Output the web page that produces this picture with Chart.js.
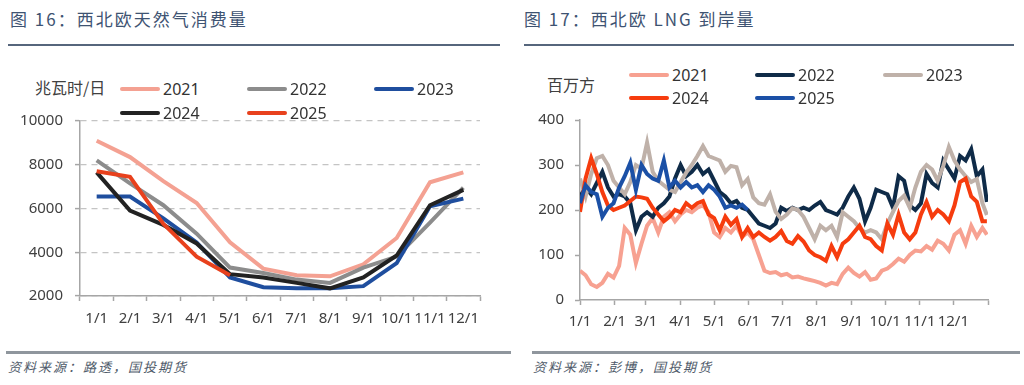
<!DOCTYPE html>
<html>
<head>
<meta charset="utf-8">
<script src="https://cdn.jsdelivr.net/npm/chart.js@4.4.0/dist/chart.umd.min.js"></script>
<style>
	html, body { margin: 0; padding: 0; background: #fff; }
	body { width: 1024px; height: 385px; position: relative; overflow: hidden; font-family: "Noto Sans", "Noto Sans CJK SC", sans-serif; }
	.title { position: absolute; top: 6px; font-family: "Noto Sans CJK SC", sans-serif; font-size: 17px; color: #3e5372; letter-spacing: 2px; white-space: nowrap; }
	.rule { position: absolute; top: 44px; height: 2px; background: #56667c; }
	.srule { position: absolute; top: 351px; height: 3px; background: #8f969d; }
	.source { position: absolute; top: 357px; font-family: "Noto Sans CJK SC", sans-serif; font-style: italic; font-size: 13px; color: #4f5b6a; letter-spacing: 2px; white-space: nowrap; }
	.unit { position: absolute; font-family: "Noto Sans CJK SC", sans-serif; font-size: 16px; color: #404040; white-space: nowrap; }
	.item { position: absolute; height: 22px; display: flex; align-items: center; font-size: 16px; color: #333; white-space: nowrap; }
	.swatch { width: 40px; height: 4px; border-radius: 2px; margin-right: 3px; }
	canvas { position: absolute; }
</style>
</head>
<body>
	<div class="title" style="left:10px">图 16：西北欧天然气消费量</div>
	<div class="rule" style="left:8px; width:492px"></div>
	<div class="title" style="left:524px">图 17：西北欧 LNG 到岸量</div>
	<div class="rule" style="left:524px; width:490px"></div>

	<div class="unit" style="left:35px; top:75px">兆瓦时/日</div>
	<div class="unit" style="left:547px; top:72px">百万方</div>

	<canvas id="chartGas" width="500" height="240" style="left:0; top:100px"></canvas>
	<canvas id="chartLng" width="500" height="240" style="left:512px; top:100px"></canvas>

	<div class="srule" style="left:6px; width:505px"></div>
	<div class="srule" style="left:532px; width:488px"></div>
	<div class="source" style="left:8px">资料来源：路透，国投期货</div>
	<div class="source" style="left:533px">资料来源：彭博，国投期货</div>

<script>
(() => {
	'use strict'

	// Left chart: monthly gas consumption (MWh/day)
	const gasMonths = ['1/1', '2/1', '3/1', '4/1', '5/1', '6/1', '7/1', '8/1', '9/1', '10/1', '11/1', '12/1'];
	const gas2021 = [9100, 8350, 7250, 6250, 4450, 3250, 2950, 2900, 3450, 4650, 7200, 7650];
	const gas2022 = [8200, 7150, 6150, 4850, 3300, 3050, 2750, 2600, 3300, 3800, 5350, 6950];
	const gas2023 = [6550, 6550, 5550, 4450, 2850, 2400, 2350, 2350, 2450, 3500, 6100, 6450];
	const gas2024 = [7650, 5900, 5250, 4400, 3000, 2850, 2600, 2350, 2850, 3850, 6150, 6850];
	const gas2025 = [7700, 7450, 5300, 3800, 2950];
	const gasTicks = [2000, 4000, 6000, 8000, 10000];

	// Right chart: LNG arrivals, sampled every 5 days (day of year)
	const lngDays = Array.from({ length: 73 }, (_, i) => i * 5).concat([364]);
	const lng2021 = [65, 55, 35, 29, 38, 58, 50, 76, 160, 145, 82, 125, 165, 182, 150, 185, 195, 175, 190, 200, 195, 205, 210, 195, 150, 140, 160, 150, 165, 140, 150, 135, 100, 65, 60, 62, 55, 58, 50, 52, 48, 45, 42, 38, 32, 38, 35, 58, 72, 60, 52, 62, 45, 48, 65, 70, 80, 92, 85, 100, 110, 108, 120, 112, 132, 125, 110, 145, 155, 125, 165, 140, 160, 145];
	const lng2022 = [230, 250, 235, 260, 285, 250, 230, 235, 230, 215, 155, 185, 195, 185, 205, 215, 230, 270, 300, 275, 285, 300, 280, 290, 265, 240, 230, 215, 220, 205, 200, 185, 170, 165, 160, 170, 205, 198, 205, 200, 205, 200, 210, 218, 200, 195, 190, 205, 230, 250, 225, 175, 205, 245, 240, 235, 205, 275, 265, 210, 200, 215, 280, 260, 250, 310, 290, 270, 320, 310, 335, 275, 290, 218];
	const lng2023 = [270, 230, 280, 315, 320, 300, 265, 250, 235, 262, 300, 292, 350, 285, 265, 255, 245, 240, 262, 283, 300, 320, 342, 320, 315, 310, 285, 298, 295, 255, 269, 228, 215, 212, 235, 196, 180, 190, 204, 200, 185, 160, 135, 165, 155, 165, 140, 195, 185, 175, 160, 150, 155, 150, 135, 170, 196, 220, 232, 205, 250, 285, 300, 290, 265, 298, 340, 310, 290, 275, 262, 269, 215, 189];
	const lng2024 = [196, 270, 315, 280, 240, 210, 200, 205, 210, 220, 230, 228, 225, 205, 190, 175, 185, 200, 195, 215, 205, 215, 220, 190, 182, 155, 185, 167, 180, 140, 160, 140, 150, 140, 132, 140, 153, 131, 125, 142, 130, 110, 100, 95, 87, 120, 95, 125, 135, 150, 165, 140, 135, 120, 110, 170, 145, 190, 150, 135, 150, 190, 218, 185, 200, 190, 175, 210, 262, 270, 230, 218, 175, 175];
	const lng2025 = [215, 255, 240, 235, 185, 205, 215, 250, 275, 305, 245, 300, 280, 270, 265, 310, 250, 265, 250, 262, 250, 255, 240, 255, 245, 230, 205, 210, 205, 212, 200];
	const monthStartDays = [0, 31, 59, 90, 120, 151, 181, 212, 243, 273, 304, 334, 365];
	const monthLabels = ['1/1', '2/1', '3/1', '4/1', '5/1', '6/1', '7/1', '8/1', '9/1', '10/1', '11/1', '12/1', ''];
	const lngTicks = [0, 100, 200, 300, 400];

	const tickFont = { family: '"Noto Sans", "Noto Sans CJK SC", sans-serif', size: 15 };
	const tickColor = '#404040';
	const axisColor = '#a6a6a6';

	// HTML legend built from the chart's datasets, laid out as a 3-column grid
	function buildLegend(chart, colX, rowY) {
		chart.data.datasets.forEach((ds, i) => {
			const item = document.createElement('div');
			item.className = 'item';
			item.style.left = colX[i % 3] + 'px';
			item.style.top = (rowY[Math.floor(i / 3)] - 11) + 'px';
			const sw = document.createElement('span');
			sw.className = 'swatch';
			sw.style.background = ds.borderColor;
			item.appendChild(sw);
			item.appendChild(document.createTextNode(ds.label));
			document.body.appendChild(item);
		});
	}

	/******************** Gas consumption chart ********************/
	const gasColors = ['#f4a192', '#8c8c8c', '#1f4e9e', '#222222', '#e8411d'];
	const gasSeries = [gas2021, gas2022, gas2023, gas2024, gas2025];
	const yearLabels = ['2021', '2022', '2023', '2024', '2025'];

	const chartGas = new Chart(document.getElementById('chartGas'), {
		type: 'line',
		data: {
			labels: gasMonths,
			datasets: gasSeries.map((d, i) => ({
				label: yearLabels[i],
				data: d,
				borderColor: gasColors[i],
				backgroundColor: gasColors[i],
				borderWidth: 4,
				pointRadius: 0,
				tension: 0,
				order: 5 - i,
			})),
		},
		options: {
			responsive: false,
			animation: false,
			layout: { padding: { top: 20, right: 20, left: 0, bottom: 0 } },
			plugins: { legend: { display: false }, tooltip: { enabled: false } },
			scales: {
				x: {
					type: 'category',
					offset: true,
					afterFit: (s) => { s.height = 44; },
					grid: { offset: true, drawOnChartArea: false, drawTicks: true, tickLength: 5, tickColor: axisColor, tickWidth: 1.5 },
					border: { color: axisColor, width: 1.5 },
					ticks: { font: tickFont, color: tickColor, padding: 9, maxRotation: 0, autoSkip: false },
				},
				y: {
					min: 2000,
					max: 10000,
					afterFit: (s) => { s.width = 80; },
					afterBuildTicks: (s) => { s.ticks = gasTicks.map(v => ({ value: v })); },
					grid: { color: '#c4c4c4', lineWidth: 1.2, tickLength: 5, tickColor: axisColor, tickWidth: 1.5, tickBorderDash: [] },
					border: { color: axisColor, width: 1.5, dash: [6, 5] },
					ticks: { font: tickFont, color: tickColor, padding: 12, callback: (v) => String(v) },
				},
			},
		},
	});
	buildLegend(chartGas, [120, 247, 374], [89, 113]);

	/******************** LNG arrivals chart ********************/
	const lngColors = ['#f7a191', '#0f2b48', '#bfb1a9', '#f63c0e', '#1b50a6'];
	const lngSeries = [lng2021, lng2022, lng2023, lng2024, lng2025];

	const chartLng = new Chart(document.getElementById('chartLng'), {
		type: 'line',
		data: {
			datasets: lngSeries.map((d, i) => ({
				label: yearLabels[i],
				data: d.map((v, k) => ({ x: lngDays[k], y: v })),
				borderColor: lngColors[i],
				backgroundColor: lngColors[i],
				borderWidth: 4,
				pointRadius: 0,
				tension: 0,
				order: 5 - i,
			})),
		},
		options: {
			responsive: false,
			animation: false,
			layout: { padding: { top: 17, right: 24, left: 0, bottom: 0 } },
			plugins: { legend: { display: false }, tooltip: { enabled: false } },
			scales: {
				x: {
					type: 'linear',
					min: 0,
					max: 365,
					afterFit: (s) => { s.height = 40; },
					afterBuildTicks: (s) => { s.ticks = monthStartDays.map(v => ({ value: v })); },
					grid: { drawOnChartArea: false, drawTicks: true, tickLength: 5, tickColor: axisColor, tickWidth: 1.5 },
					border: { color: axisColor, width: 1.5 },
					ticks: { font: tickFont, color: tickColor, padding: 8, maxRotation: 0, autoSkip: false, callback: (v, i) => monthLabels[i] },
				},
				y: {
					min: 0,
					max: 400,
					afterFit: (s) => { s.width = 68; },
					afterBuildTicks: (s) => { s.ticks = lngTicks.map(v => ({ value: v })); },
					grid: { drawOnChartArea: false, tickLength: 5, tickColor: axisColor, tickWidth: 1.5 },
					border: { color: axisColor, width: 1.5 },
					ticks: { font: tickFont, color: tickColor, padding: 11 },
				},
			},
		},
	});
	buildLegend(chartLng, [629, 755, 883], [75, 98]);
})()
</script>
</body>
</html>
